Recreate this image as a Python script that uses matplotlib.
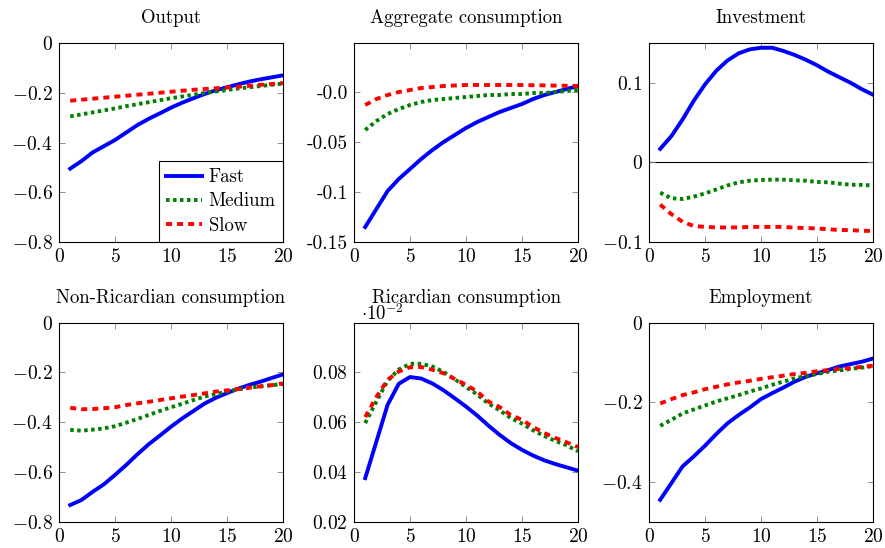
import matplotlib
matplotlib.use("Agg")
import matplotlib.pyplot as plt
import numpy as np

plt.rcParams['font.family'] = 'serif'
plt.rcParams['font.serif'] = ['cmr10', 'DejaVu Serif']
plt.rcParams['mathtext.fontset'] = 'cm'
plt.rcParams['axes.unicode_minus'] = False

quarters = list(range(1, 21))

output_fast = [-0.505, -0.475, -0.44, -0.415, -0.39, -0.36, -0.33, -0.305, -0.283, -0.26,
               -0.24, -0.222, -0.205, -0.19, -0.178, -0.166, -0.155, -0.146, -0.138, -0.13]
output_medium = [-0.295, -0.287, -0.279, -0.271, -0.263, -0.254, -0.246, -0.238, -0.23, -0.222,
                 -0.215, -0.208, -0.201, -0.195, -0.189, -0.183, -0.178, -0.173, -0.168, -0.163]
output_slow = [-0.232, -0.228, -0.224, -0.22, -0.216, -0.212, -0.208, -0.204, -0.2, -0.196,
               -0.192, -0.188, -0.185, -0.182, -0.179, -0.176, -0.172, -0.168, -0.165, -0.161]

aggc_fast = [-0.135, -0.117, -0.099, -0.087, -0.077, -0.067, -0.058, -0.050, -0.043, -0.036,
             -0.030, -0.025, -0.020, -0.016, -0.012, -0.007, -0.003, 0.0, 0.003, 0.006]
aggc_medium = [-0.038, -0.029, -0.022, -0.017, -0.013, -0.010, -0.008, -0.007, -0.006, -0.005,
               -0.004, -0.003, -0.003, -0.002, -0.002, -0.001, -0.001, 0.0, 0.001, 0.002]
aggc_slow = [-0.013, -0.007, -0.003, 0.0, 0.002, 0.004, 0.005, 0.006, 0.0065, 0.007,
             0.007, 0.007, 0.007, 0.007, 0.007, 0.0068, 0.0066, 0.0064, 0.0062, 0.006]

inv_fast = [0.017, 0.033, 0.054, 0.0775, 0.098, 0.115, 0.128, 0.137, 0.142, 0.144,
            0.144, 0.140, 0.135, 0.129, 0.122, 0.114, 0.107, 0.100, 0.092, 0.085]
inv_medium = [-0.038, -0.045, -0.046, -0.043, -0.039, -0.034, -0.029, -0.025, -0.023, -0.022,
              -0.0217, -0.0217, -0.0225, -0.023, -0.0246, -0.025, -0.0267, -0.028, -0.0283, -0.029]
inv_slow = [-0.053, -0.065, -0.0746, -0.080, -0.081, -0.0817, -0.0817, -0.0817, -0.081, -0.081,
            -0.081, -0.081, -0.082, -0.0825, -0.083, -0.084, -0.085, -0.085, -0.086, -0.086]

nonric_fast = [-0.733, -0.713, -0.68, -0.65, -0.612, -0.572, -0.529, -0.489, -0.454, -0.418,
               -0.385, -0.355, -0.325, -0.302, -0.283, -0.265, -0.25, -0.237, -0.222, -0.208]
nonric_medium = [-0.431, -0.434, -0.43, -0.425, -0.416, -0.402, -0.387, -0.371, -0.355, -0.34,
                 -0.326, -0.311, -0.297, -0.287, -0.277, -0.268, -0.261, -0.256, -0.251, -0.247]
nonric_slow = [-0.342, -0.348, -0.347, -0.344, -0.34, -0.331, -0.324, -0.318, -0.311, -0.304,
               -0.297, -0.291, -0.284, -0.277, -0.272, -0.267, -0.261, -0.256, -0.251, -0.244]

ric_fast = [0.0374, 0.052, 0.0667, 0.0751, 0.0778, 0.0772, 0.0752, 0.0725, 0.0693, 0.066,
            0.0624, 0.0584, 0.0547, 0.0514, 0.0487, 0.0464, 0.0445, 0.043, 0.0417, 0.0404]
ric_medium = [0.0594, 0.068, 0.0763, 0.0808, 0.0831, 0.0831, 0.082, 0.0798, 0.0769, 0.0738,
              0.0708, 0.0672, 0.0645, 0.0614, 0.0592, 0.0565, 0.0542, 0.0522, 0.0505, 0.0481]
ric_slow = [0.0618, 0.0698, 0.0767, 0.080, 0.0817, 0.0818, 0.0807, 0.0793, 0.077, 0.0747,
            0.072, 0.068, 0.0658, 0.0626, 0.0607, 0.0578, 0.0554, 0.0534, 0.0517, 0.0498]

emp_fast = [-0.445, -0.403, -0.361, -0.336, -0.309, -0.28, -0.253, -0.232, -0.213, -0.192,
            -0.177, -0.163, -0.148, -0.136, -0.127, -0.119, -0.11, -0.104, -0.098, -0.09]
emp_medium = [-0.259, -0.244, -0.228, -0.218, -0.208, -0.198, -0.19, -0.182, -0.173, -0.165,
              -0.156, -0.148, -0.14, -0.134, -0.129, -0.123, -0.12, -0.116, -0.113, -0.109]
emp_slow = [-0.203, -0.192, -0.182, -0.175, -0.167, -0.161, -0.155, -0.15, -0.146, -0.141,
            -0.137, -0.133, -0.129, -0.126, -0.122, -0.119, -0.116, -0.114, -0.111, -0.108]

titles = ["Output", "Aggregate consumption", "Investment",
          "Non-Ricardian consumption", "Ricardian consumption", "Employment"]
series = [(output_fast, output_medium, output_slow),
          (aggc_fast, aggc_medium, aggc_slow),
          (inv_fast, inv_medium, inv_slow),
          (nonric_fast, nonric_medium, nonric_slow),
          (ric_fast, ric_medium, ric_slow),
          (emp_fast, emp_medium, emp_slow)]
ylims = [(-0.8, 0), (-0.15, 0.049), (-0.1, 0.15), (-0.8, 0), (0.02, 0.0995), (-0.5, 0)]
yticks = [[-0.8, -0.6, -0.4, -0.2, 0],
          [-0.15, -0.1, -0.05, 0],
          [-0.1, 0, 0.1],
          [-0.8, -0.6, -0.4, -0.2, 0],
          [0.02, 0.04, 0.06, 0.08],
          [-0.4, -0.2, 0]]
ytick_labels = [[r'$-0.8$', r'$-0.6$', r'$-0.4$', r'$-0.2$', r'$0$'],
                ['-0.15', '-0.1', '-0.05', '-0.0'],
                [r'$-0.1$', r'$0$', r'$0.1$'],
                [r'$-0.8$', r'$-0.6$', r'$-0.4$', r'$-0.2$', r'$0$'],
                [r'$0.02$', r'$0.04$', r'$0.06$', r'$0.08$'],
                [r'$-0.4$', r'$-0.2$', r'$0$']]
xticks = [0, 5, 10, 15, 20]
labels = ["Fast", "Medium", "Slow"]

W, H = 885, 548
fig = plt.figure(figsize=(W / 100, H / 100), dpi=100)

lefts = [59, 354, 649]
tops = [43, 322.7]
aw, ah = 224, 199

lw = 2.8
for i, (title, (fast, medium, slow)) in enumerate(zip(titles, series)):
    r, c = divmod(i, 3)
    ax = fig.add_axes([lefts[c] / W, 1 - (tops[r] + ah) / H, aw / W, ah / H])
    ax.plot(quarters, fast, color=(0, 0, 1), lw=lw, label=labels[0])
    ax.plot(quarters, medium, color=(0, 0.5, 0), lw=lw, dashes=(0.9, 0.9), label=labels[1])
    ax.plot(quarters, slow, color=(1, 0, 0), lw=lw, dashes=(1.55, 1.3), label=labels[2])
    if title == "Investment":
        ax.axhline(0, color='black', lw=0.8, zorder=1)
    ax.set_xlim(0, 20)
    ax.set_ylim(*ylims[i])
    ax.set_xticks(xticks)
    ax.set_xticklabels([r'$%d$' % t for t in xticks])
    ax.set_yticks(yticks[i])
    ax.set_yticklabels(ytick_labels[i])
    ax.tick_params(direction='in', length=4, width=0.6, color='0.5',
                   top=True, right=True, labelsize=14, pad=4.5)
    for sp in ax.spines.values():
        sp.set_linewidth(0.8)
    ax.set_title(title, fontsize=13.5, pad=14.5)
    if title == "Ricardian consumption":
        ax.text(0.03, 0.995, r'$\cdot 10^{-2}$', transform=ax.transAxes,
                ha='left', va='bottom', fontsize=13.5)
    if i == 0:
        leg = ax.legend(loc='lower right', borderaxespad=0, fancybox=False,
                        edgecolor='black', framealpha=1, fontsize=13.5,
                        handlelength=1.9, handletextpad=0.35, labelspacing=0.33,
                        borderpad=0.4)
        leg.get_frame().set_linewidth(0.8)

plt.savefig("out.png", dpi=100)
